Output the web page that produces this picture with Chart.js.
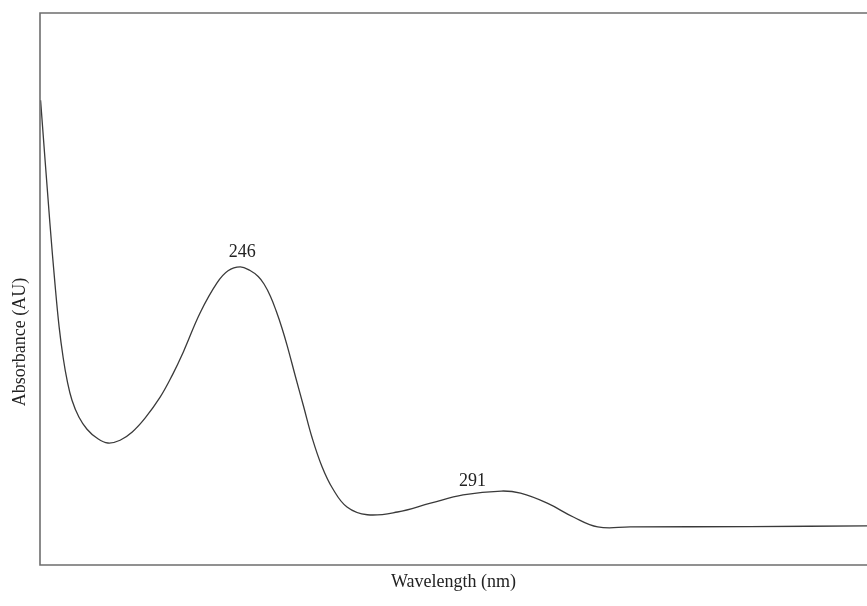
<!DOCTYPE html>
<html>
<head>
<meta charset="utf-8">
<title>UV spectrum</title>
<script src="https://cdn.jsdelivr.net/npm/chart.js@4/dist/chart.umd.min.js"></script>
<style>
  html, body { margin: 0; padding: 0; background: #fff; }
  #wrap { width: 867px; height: 606px; position: relative; }
</style>
</head>
<body>
<div id="wrap"><canvas id="myChart"></canvas></div>
<script>
'use strict';
// ---------- Spectrum data ------------- //
let wavelengths = [211.6, 213.2, 214.1, 214.8, 215.5, 216.2, 217.0, 218.2, 219.6, 221.3,
  223.2, 225.3, 227.4, 229.6, 232.2, 234.3, 236.2, 239.1, 242.0, 243.9,
  246.0, 247.7, 249.1, 250.1, 251.2, 252.2, 253.2, 254.1, 255.5, 256.9,
  258.4, 260.1, 261.9, 264.4, 267.9, 273.1, 278.8, 284.4, 291.0, 294.3,
  298.9, 303.4, 307.6, 313.2, 333.9, 354.0];
let absorbance = [0.842, 0.620, 0.507, 0.431, 0.375, 0.333, 0.299, 0.268, 0.246, 0.230,
  0.221, 0.226, 0.241, 0.266, 0.304, 0.344, 0.386, 0.457, 0.511, 0.533,
  0.540, 0.5335, 0.5226, 0.509, 0.487, 0.460, 0.429, 0.397, 0.342, 0.288,
  0.230, 0.178, 0.139, 0.105, 0.091, 0.096, 0.112, 0.127, 0.134, 0.130,
  0.112, 0.087, 0.069, 0.069, 0.0697, 0.0707];

// peak annotations
let peakWavelengths = [246, 291];
let peakLabels = ['246', '291'];

let xTitle = 'Wavelength (nm)';
let yTitle = 'Absorbance (AU)';

// ---------- Frame + labels plugin ------------- //
let framePlugin = {
  id: 'frame',
  afterDatasetsDraw(chart) {
    let ctx = chart.ctx;
    let a = chart.chartArea;
    let xs = chart.scales.x;
    let ys = chart.scales.y;
    ctx.save();
    // open frame: top, left, bottom
    ctx.strokeStyle = '#6e6e6e';
    ctx.lineWidth = 1.6;
    ctx.beginPath();
    ctx.moveTo(chart.width, a.top);
    ctx.lineTo(a.left, a.top);
    ctx.lineTo(a.left, a.bottom);
    ctx.lineTo(chart.width, a.bottom);
    ctx.stroke();

    ctx.fillStyle = '#222';
    ctx.font = '18px "Liberation Serif", "Times New Roman", serif';
    ctx.textAlign = 'center';
    ctx.textBaseline = 'alphabetic';
    let shiftX = [2, -29];
    let shiftY = [10, 5];
    for (let i = 0; i < peakWavelengths.length; i++) {
      let idx = wavelengths.indexOf(peakWavelengths[i]);
      let px = xs.getPixelForValue(peakWavelengths[i]);
      let py = ys.getPixelForValue(absorbance[idx]);
      ctx.fillText(peakLabels[i], px + shiftX[i], py - shiftY[i]);
    }

    ctx.textBaseline = 'middle';
    ctx.fillText(xTitle, (a.left + chart.width) / 2, 582);
    ctx.translate(20, 342);
    ctx.rotate(-Math.PI / 2);
    ctx.fillText(yTitle, 0, 0);
    ctx.restore();
  }
};

// ---------- Chart ------------- //
let points = [];
for (let i = 0; i < wavelengths.length; i++) {
  points.push({ x: wavelengths[i], y: absorbance[i] });
}

let chartObject = {
  type: 'line',
  data: {
    datasets: [{
      data: points,
      borderColor: '#3a3a3a',
      borderWidth: 1.3,
      pointRadius: 0,
      fill: false,
      tension: 0.4
    }]
  },
  options: {
    responsive: true,
    maintainAspectRatio: false,
    animation: false,
    layout: { padding: { left: 40, top: 13, right: 0, bottom: 41 } },
    plugins: { legend: { display: false }, tooltip: { enabled: false } },
    scales: {
      x: { type: 'linear', min: 211.5, max: 354, display: false },
      y: { min: 0, max: 1, display: false }
    }
  },
  plugins: [framePlugin]
};

let ctx = document.getElementById('myChart').getContext('2d');
let myChart = new Chart(ctx, chartObject);
</script>
</body>
</html>
